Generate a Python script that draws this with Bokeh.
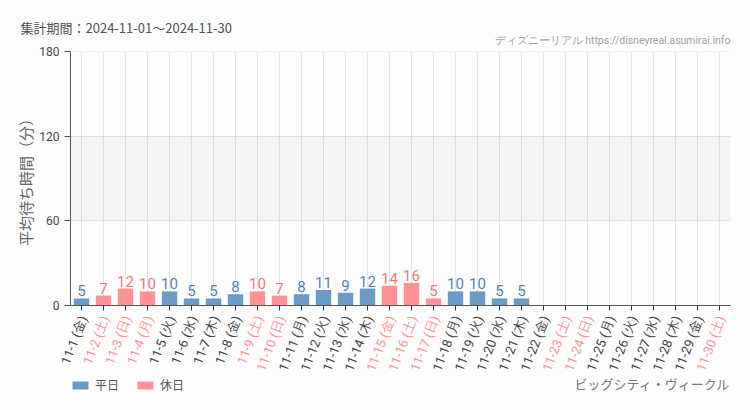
from bokeh.plotting import figure
from bokeh.models import (ColumnDataSource, FixedTicker, Label, LabelSet, Legend, LegendItem,
                          Range1d, LinearAxis, BoxAnnotation)
from bokeh.core.properties import value
from bokeh.embed import file_html
from bokeh.resources import INLINE

# ---- data ----
dates = ["11-1", "11-2", "11-3", "11-4", "11-5", "11-6", "11-7", "11-8", "11-9", "11-10",
         "11-11", "11-12", "11-13", "11-14", "11-15", "11-16", "11-17", "11-18", "11-19", "11-20",
         "11-21", "11-22", "11-23", "11-24", "11-25", "11-26", "11-27", "11-28", "11-29", "11-30"]
weekdays = ["金", "土", "日", "月", "火", "水", "木", "金", "土", "日",
            "月", "火", "水", "木", "金", "土", "日", "月", "火", "水",
            "木", "金", "土", "日", "月", "火", "水", "木", "金", "土"]
holiday = [0, 1, 1, 1, 0, 0, 0, 0, 1, 1,
           0, 0, 0, 0, 1, 1, 1, 0, 0, 0,
           0, 0, 1, 1, 0, 0, 0, 0, 0, 1]
waits = [5, 7, 12, 10, 10, 5, 5, 8, 10, 7,
         8, 11, 9, 12, 14, 16, 5, 10, 10, 5, 5]
y_ticks = [0, 60, 120, 180]
Y_MAX = 180

BLUE = "#6b9ac7"
PINK = "#ff9196"
BLUE_TXT = "#4f82b8"
PINK_TXT = "#f4767c"
CJK = "Noto Sans CJK JP"
NUM = "Roboto"
BG = "#fdfdfd"

cats = [f"{d} ({w})" for d, w in zip(dates, weekdays)]
N = len(cats)
centers = [i + 0.5 for i in range(N)]      # category slots on the x scale

# ---- layout (pixels) ----
W, H = 750, 410
PLOT_L, PLOT_R, PLOT_T, AXIS_Y = 70, 730, 51, 305
cat_px = (PLOT_R - PLOT_L) / N
px_per_unit = (AXIS_Y - PLOT_T) / Y_MAX
x_start = -PLOT_L / cat_px
x_end = N + (W - PLOT_R) / cat_px
y_start = -(H - AXIS_Y) / px_per_unit
y_end = Y_MAX + PLOT_T / px_per_unit

p = figure(width=W, height=H, x_range=Range1d(x_start, x_end), y_range=Range1d(y_start, y_end),
           x_axis_location=None, y_axis_location=None,
           output_backend="svg", toolbar_location=None,
           min_border=0, background_fill_color=BG, border_fill_color=BG)
p.outline_line_color = None

# grids
p.xgrid.ticker = FixedTicker(ticks=centers)
p.xgrid.grid_line_color = "#e6e6e6"
p.ygrid.ticker = FixedTicker(ticks=y_ticks)
p.ygrid.grid_line_color = "#e6e6e6"

# shaded band 60-120 (semi-transparent so the grid stays visible)
p.add_layout(BoxAnnotation(left=0, right=N, bottom=y_ticks[1], top=y_ticks[2],
                           fill_color="#000000", fill_alpha=0.035, line_color=None,
                           level="underlay"))
# mask grid lines outside the plotting area
for kw in (dict(top=0), dict(bottom=Y_MAX), dict(right=0), dict(left=N)):
    p.add_layout(BoxAnnotation(fill_color=BG, fill_alpha=1.0, line_color=None,
                               level="glyph", **kw))

# y axis
yaxis = LinearAxis(fixed_location=0, ticker=FixedTicker(ticks=y_ticks), bounds=(0, Y_MAX))
yaxis.axis_line_color = "#555555"
yaxis.major_tick_line_color = "#555555"
yaxis.major_tick_in = 0
yaxis.major_tick_out = 6
yaxis.minor_tick_line_color = None
yaxis.major_label_text_font = NUM
yaxis.major_label_text_font_size = "12px"
yaxis.major_label_text_color = "#444444"
yaxis.axis_label = "平均待ち時間（分）"
yaxis.axis_label_text_font = CJK
yaxis.axis_label_text_font_style = "normal"
yaxis.axis_label_text_font_size = "15px"
yaxis.axis_label_text_color = "#666666"
yaxis.axis_label_standoff = 0
p.add_layout(yaxis, "left")

# x axis
xaxis = LinearAxis(fixed_location=0, ticker=FixedTicker(ticks=centers), bounds=(0, N))
xaxis.axis_line_color = "#555555"
xaxis.major_tick_line_color = "#333333"
xaxis.major_tick_in = 0
xaxis.major_tick_out = 5
xaxis.minor_tick_line_color = None
xaxis.major_label_text_alpha = 0
xaxis.major_label_text_font_size = "1px"
p.add_layout(xaxis, "below")

# bars
n = len(waits)
wk_idx = [i for i in range(n) if not holiday[i]]
ho_idx = [i for i in range(n) if holiday[i]]
src_w = ColumnDataSource(dict(x=[centers[i] for i in wk_idx], y=[waits[i] for i in wk_idx],
                              t=[str(waits[i]) for i in wk_idx]))
src_h = ColumnDataSource(dict(x=[centers[i] for i in ho_idx], y=[waits[i] for i in ho_idx],
                              t=[str(waits[i]) for i in ho_idx]))
r_w = p.vbar(x="x", top="y", width=0.7, source=src_w, fill_color=BLUE, line_color=None)
r_h = p.vbar(x="x", top="y", width=0.7, source=src_h, fill_color=PINK, line_color=None)

for src, col in ((src_w, BLUE_TXT), (src_h, PINK_TXT)):
    p.text(x="x", y="y", text="t", source=src, text_align="center", text_baseline="bottom",
           y_offset=-2, text_font=value(NUM), text_font_size="15px", text_color=col)

# colored, rotated category labels
lab_src = ColumnDataSource(dict(x=centers, y=[0] * N, t=cats,
                                c=[PINK if h else "#444444" for h in holiday]))
p.add_layout(LabelSet(x="x", y="y", text="t", source=lab_src, angle=1.2,
                      text_align="right", text_baseline="middle", x_offset=2, y_offset=-11,
                      text_font=value(NUM), text_font_size="13px", text_color="c"))

# legend
legend = Legend(items=[LegendItem(label="平日", renderers=[r_w]),
                       LegendItem(label="休日", renderers=[r_h])],
                orientation="horizontal", location=(PLOT_L, 17),
                glyph_width=20, glyph_height=10, label_standoff=5, spacing=16,
                padding=0, margin=0, border_line_color=None, background_fill_alpha=0,
                label_text_font=CJK, label_text_font_size="12px",
                label_text_color="#555555")
p.add_layout(legend, "center")

# captions
p.add_layout(Label(x=PLOT_R, y=18, x_units="screen", y_units="screen",
                   text="ビッグシティ・ヴィークル", text_align="right",
                   text_font=CJK, text_font_size="13px", text_color="#777777"))
p.add_layout(Label(x=20, y=H - 27, x_units="screen", y_units="screen",
                   text="集計期間：2024-11-01～2024-11-30", text_baseline="middle",
                   text_font=CJK, text_font_size="13px", text_color="#505050"))
p.add_layout(Label(x=PLOT_R, y=H - 40, x_units="screen", y_units="screen",
                   text="ディズニーリアル https://disneyreal.asumirai.info", text_align="right",
                   text_baseline="middle", text_font=NUM, text_font_size="10.5px",
                   text_color="#a0a0a0"))

open("out.html", "w").write(file_html(p, INLINE))
